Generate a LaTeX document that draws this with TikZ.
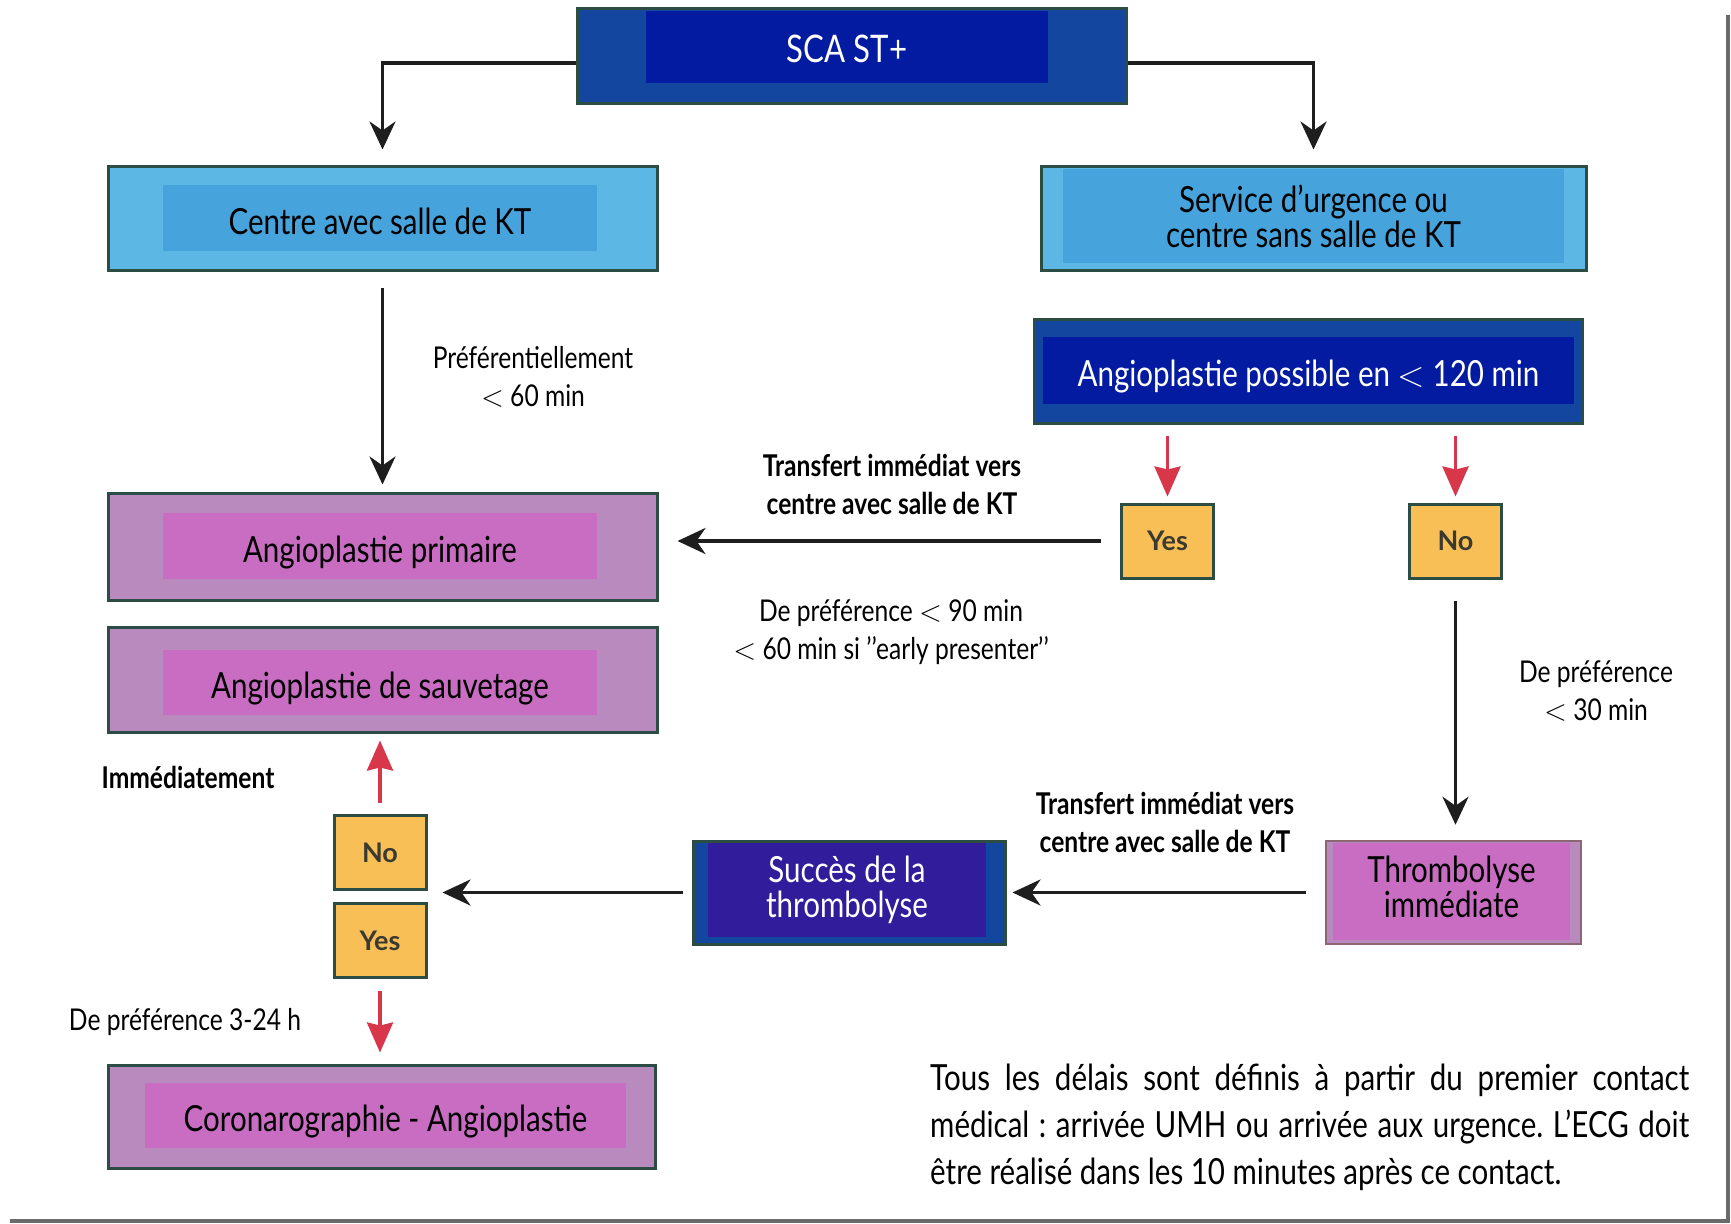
\documentclass[tikz,border=0pt]{standalone}
\usepackage{fontspec}
\usepackage{graphicx}
\setmainfont[FakeStretch=0.82]{Lato}
\newfontfamily\ynfont{Lato}
\newfontfamily\lmfont{Latin Modern Roman}
\usetikzlibrary{arrows.meta,calc}
\definecolor{edge}{HTML}{2B4D44}
\definecolor{dblueO}{HTML}{13469E}
\definecolor{dblueI}{HTML}{031BA1}
\definecolor{lblueO}{HTML}{5DB7E5}
\definecolor{lblueI}{HTML}{47A3DC}
\definecolor{purO}{HTML}{B98ABD}
\definecolor{purI}{HTML}{C96DC3}
\definecolor{indI}{HTML}{311C9C}
\definecolor{ynfill}{HTML}{F7BF55}
\definecolor{ynText}{HTML}{3A3A30}
\definecolor{redA}{HTML}{D8364B}
\definecolor{frameC}{HTML}{6A6A6A}
\definecolor{arrowk}{HTML}{1E1E1E}
\newcommand{\lessth}{{\lmfont <}}
\frenchspacing
\begin{document}
\begin{tikzpicture}[x=1pt,y=-1pt,
  outerbox/.style={draw=edge, line width=3pt, inner sep=0pt},
  innerbox/.style={inner sep=0pt, align=center, font=\fontsize{36}{35}\selectfont},
  oneline/.style={text height=32pt, text depth=0pt},
  ynbox/.style={draw=edge, line width=3pt, fill=ynfill, inner sep=0pt,
     minimum width=92pt, minimum height=74pt, font=\ynfont\bfseries\fontsize{27}{30}\selectfont, text=ynText},
  lbl/.style={align=center, inner sep=0pt, font=\fontsize{30}{38}\selectfont},
  blbl/.style={align=center, inner sep=0pt, font=\bfseries\fontsize{30}{38}\selectfont},
  karrow/.style={draw=arrowk, line width=3.5pt, -{Stealth[length=28pt,width=26pt,inset=9pt]}},
  rarrow/.style={draw=redA, line width=3.5pt, -{Stealth[length=30pt,width=26pt,inset=3pt]}}
]
\useasboundingbox (0,0) rectangle (1731,1223);
\fill[white] (0,0) rectangle (1731,1223);
% frame lines
\draw[frameC, line width=4pt] (1728,15) -- (1728,1221) -- (10,1221);

% top box
\node[outerbox, fill=dblueO, minimum width=549pt, minimum height=94pt] (sca) at (851.5,56) {};
\node[innerbox, oneline, fill=dblueI, minimum width=402pt, minimum height=72pt, text=white,
      font=\fontsize{38}{40}\selectfont] (scain) at (847,47) {SCA ST+};

% left column
\node[outerbox, fill=lblueO, minimum width=549pt, minimum height=104pt] (centre) at (382.5,218) {};
\node[innerbox, oneline, fill=lblueI, minimum width=434pt, minimum height=66pt] (centrein) at (380,218) {Centre avec salle de KT};

\node[outerbox, fill=purO, minimum width=549pt, minimum height=107pt] (angprim) at (382.5,546.5) {};
\node[innerbox, oneline, fill=purI, minimum width=434pt, minimum height=66pt] (angprimin) at (380,546) {Angioplastie primaire};

\node[outerbox, fill=purO, minimum width=549pt, minimum height=105pt] (sauv) at (382.5,679.5) {};
\node[innerbox, oneline, fill=purI, minimum width=434pt, minimum height=65pt] (sauvin) at (380,682) {Angioplastie de sauvetage};

\node[outerbox, fill=purO, minimum width=547pt, minimum height=103pt] (coro) at (381.5,1116.5) {};
\node[innerbox, oneline, fill=purI, minimum width=481pt, minimum height=65pt] (coroin) at (385.5,1115.5) {Coronarographie - Angioplastie};

% right column
\node[outerbox, fill=lblueO, minimum width=545pt, minimum height=104pt] (serv) at (1313.5,218) {};
\node[innerbox, fill=lblueI, minimum width=501pt, minimum height=94pt] (servin) at (1313.5,216) {Service d’urgence ou\\centre sans salle de KT};

\node[outerbox, fill=dblueO, minimum width=548pt, minimum height=104pt] (poss) at (1308,371) {};
\node[innerbox, oneline, fill=dblueI, minimum width=531pt, minimum height=67pt, text=white] (possin) at (1308.5,370.5) {Angioplastie possible en \lessth{} 120 min};

\node[ynbox] (yesA) at (1167.5,541) {Yes};
\node[ynbox] (noA) at (1455.5,541) {No};

\node[outerbox, draw=gray!80!purple, line width=2.5pt, fill=purO, minimum width=255pt, minimum height=103pt] (thromb) at (1453.5,892.5) {};
\node[fill=purI, inner sep=0pt, minimum width=237pt, minimum height=97pt] (thrombin) at (1451.5,891.5) {};
\node[innerbox] (thrombtxt) at (1451.5,887) {Thrombolyse\\immédiate};

\node[outerbox, fill=dblueO, minimum width=312pt, minimum height=103pt] (succ) at (849,892.5) {};
\node[innerbox, fill=indI, minimum width=278pt, minimum height=94pt, text=white] (succin) at (847,890) {Succès de la\\thrombolyse};

\node[ynbox] (noB) at (380,852.5) {No};
\node[ynbox] (yesB) at (380,940.5) {Yes};
\coordinate (nyB) at ($(noB.south east)!0.5!(yesB.north east)$);

% connectors
\draw[karrow] ([yshift=-7pt]sca.west) -| ([yshift=15pt]centre.north);
\draw[karrow] ([yshift=-7pt]sca.east) -| ([yshift=15pt]serv.north);
\draw[karrow, shorten <=16pt, shorten >=7pt] (centre.south) -- (angprim.north);
\draw[rarrow, shorten <=11pt, shorten >=6pt] (poss.south -| yesA) -- (yesA.north);
\draw[rarrow, shorten <=11pt, shorten >=6pt] (poss.south -| noA) -- (noA.north);
\draw[karrow, shorten <=19pt, shorten >=19pt] (yesA.west) -- (yesA.west -| angprim.east);
\draw[karrow, shorten <=21pt, shorten >=15pt] (noA.south) -- (noA.south |- thromb.north);
\draw[karrow, shorten <=19pt, shorten >=6pt] (thromb.west) -- (succ.east);
\draw[karrow, shorten <=9pt, shorten >=15pt] (succ.west) -- (succ.west -| nyB);
\draw[rarrow, shorten <=11pt, shorten >=7pt] (noB.north) -- (noB.north |- sauv.south);
\draw[rarrow, shorten <=12pt, shorten >=11pt] (yesB.south) -- (yesB.south |- coro.north);

% labels
\node[lbl] (l60) at (533,377) {Préférentiellement\\\lessth{} 60 min};
\node[blbl] (t1) at (892,484) {Transfert immédiat vers\\centre avec salle de KT};
\node[lbl] (l90) at (891,632) {De préférence \lessth{} 90 min\\\lessth{} 60 min si ’’early presenter’’};
\node[lbl] (l30) at (1596,691) {De préférence\\\lessth{} 30 min};
\node[blbl] (t2) at (1165,822) {Transfert immédiat vers\\centre avec salle de KT};
\node[blbl] (imm) at (188,777) {Immédiatement};
\node[lbl] (l324) at (185,1022) {De préférence 3-24 h};

\node[anchor=north west, inner sep=0pt, text width=759pt, align=justify,
      font=\fontsize{36}{47}\selectfont] (note) at (930,1064)
  {Tous les délais sont définis à partir du premier contact\linebreak médical : arrivée UMH ou arrivée aux urgence. L’ECG doit\linebreak être réalisé dans les 10 minutes après ce contact.};
\end{tikzpicture}
\end{document}
